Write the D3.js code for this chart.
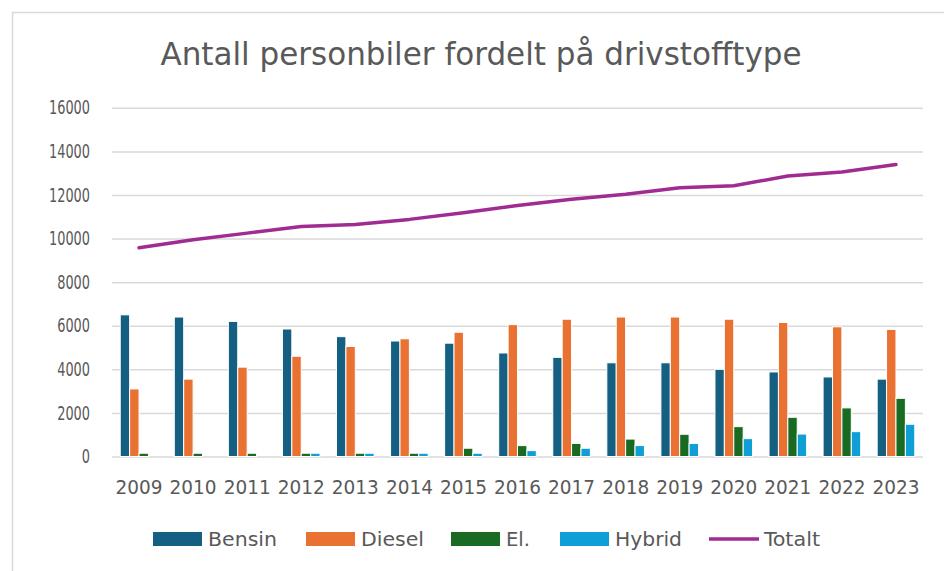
<!DOCTYPE html>
<html>
<head>
<meta charset="utf-8">
<script src="https://cdn.jsdelivr.net/npm/d3@7"></script>
<style>
  body { margin: 0; background: #fff; }
  text { font-family: "Liberation Sans Narrow", "DejaVu Sans Condensed", "Liberation Sans", sans-serif; fill: #595959; }
</style>
</head>
<body>
<div id="chart"></div>
<script>
// data
const years = ['2009', '2010', '2011', '2012', '2013', '2014', '2015', '2016',
    '2017', '2018', '2019', '2020', '2021', '2022', '2023'];
const bensin = [6500, 6400, 6200, 5850, 5500, 5300, 5200, 4750, 4550, 4300, 4300, 4000, 3880, 3650, 3550];
const diesel = [3100, 3550, 4100, 4600, 5050, 5400, 5700, 6050, 6300, 6400, 6400, 6300, 6150, 5950, 5830];
const el = [150, 150, 150, 150, 150, 150, 380, 500, 600, 800, 1020, 1370, 1800, 2230, 2670];
const hybrid = [0, 0, 0, 150, 150, 150, 150, 270, 380, 500, 600, 820, 1030, 1140, 1480];
const totalt = [9580, 9950, 10250, 10550, 10650, 10880, 11180, 11520, 11800, 12030, 12330, 12420, 12870, 13050, 13400];
const yTicks = [0, 2000, 4000, 6000, 8000, 10000, 12000, 14000, 16000];

const series = [
    { name: 'Bensin', values: bensin, color: '#156082' },
    { name: 'Diesel', values: diesel, color: '#E97132' },
    { name: 'El.', values: el, color: '#196B24' },
    { name: 'Hybrid', values: hybrid, color: '#0F9ED5' }
];
const lineColor = '#A02B93';

const W = 944, H = 571;
const plot = { left: 112, right: 923, top: 107.8, bottom: 456.5 };

const svg = d3.select('#chart')
    .append('svg')
    .attr('width', W)
    .attr('height', H);

// chart border (only top and left are inside the picture)
svg.append('rect')
    .attr('x', 12.5).attr('y', 12.5)
    .attr('width', 1000).attr('height', 1000)
    .attr('fill', 'none')
    .attr('stroke', '#d9d9d9')
    .attr('stroke-width', 1.5);

// title
svg.append('text')
    .attr('x', 481).attr('y', 65)
    .attr('text-anchor', 'middle')
    .attr('font-size', 32)
    .attr('textLength', 641)
    .attr('lengthAdjust', 'spacingAndGlyphs')
    .text('Antall personbiler fordelt på drivstofftype');

// scales
const x0 = d3.scaleBand().domain(years).range([plot.left, plot.right]);
const x1 = d3.scaleBand().domain(series.map(s => s.name))
    .range([0, x0.bandwidth()]).paddingOuter(0.875);
const y = d3.scaleLinear().domain([0, 16000]).range([plot.bottom, plot.top]);

// y axis with gridlines
const yAxis = svg.append('g')
    .attr('transform', `translate(${plot.left},0)`)
    .call(d3.axisLeft(y).tickValues(yTicks).tickFormat(d3.format('d'))
        .tickSize(-(plot.right - plot.left)).tickPadding(22));
yAxis.select('.domain').remove();
yAxis.selectAll('line').attr('stroke', '#d9d9d9').attr('stroke-width', 1.5);
yAxis.selectAll('text')
    .attr('font-size', 19)
    .style('fill', '#595959')
    .attr('textLength', d => String(d).length * 8.2)
    .attr('lengthAdjust', 'spacingAndGlyphs');

// x axis labels
const xAxis = svg.append('g')
    .attr('transform', `translate(0,${plot.bottom})`)
    .call(d3.axisBottom(x0).tickSize(0).tickPadding(23));
xAxis.select('.domain').remove();
xAxis.selectAll('text')
    .attr('font-size', 20)
    .style('fill', '#595959')
    .attr('textLength', 47)
    .attr('lengthAdjust', 'spacingAndGlyphs');

// bars
series.forEach(s => {
    svg.append('g')
        .selectAll('rect')
        .data(s.values)
        .enter()
        .append('rect')
        .attr('x', (d, i) => x0(years[i]) + x1(s.name))
        .attr('y', d => y(d))
        .attr('width', x1.bandwidth())
        .attr('height', d => y(0) - y(d))
        .attr('fill', s.color)
        .attr('stroke', '#fff')
        .attr('stroke-width', 1);
});

// total line
const line = d3.line()
    .x((d, i) => x0(years[i]) + x0.bandwidth() / 2)
    .y(d => y(d));
svg.append('path')
    .datum(totalt)
    .attr('d', line)
    .attr('fill', 'none')
    .attr('stroke', lineColor)
    .attr('stroke-width', 3.5)
    .attr('stroke-linecap', 'round')
    .attr('stroke-linejoin', 'round');

// legend
const legendItems = [
    { name: 'Bensin', color: series[0].color, x: 153, tw: 69 },
    { name: 'Diesel', color: series[1].color, x: 306, tw: 63 },
    { name: 'El.', color: series[2].color, x: 451, tw: 24 },
    { name: 'Hybrid', color: series[3].color, x: 560, tw: 67 },
    { name: 'Totalt', color: lineColor, x: 709, tw: 56, line: true }
];
const legend = svg.append('g');
legendItems.forEach(it => {
    if (it.line) {
        legend.append('line')
            .attr('x1', it.x).attr('x2', it.x + 50)
            .attr('y1', 539).attr('y2', 539)
            .attr('stroke', it.color)
            .attr('stroke-width', 3.5);
    } else {
        legend.append('rect')
            .attr('x', it.x).attr('y', 532)
            .attr('width', 49).attr('height', 14)
            .attr('fill', it.color);
    }
    legend.append('text')
        .attr('x', it.x + 55).attr('y', 546)
        .attr('font-size', 20)
        .attr('textLength', it.tw)
        .attr('lengthAdjust', 'spacingAndGlyphs')
        .text(it.name);
});
</script>
</body>
</html>
